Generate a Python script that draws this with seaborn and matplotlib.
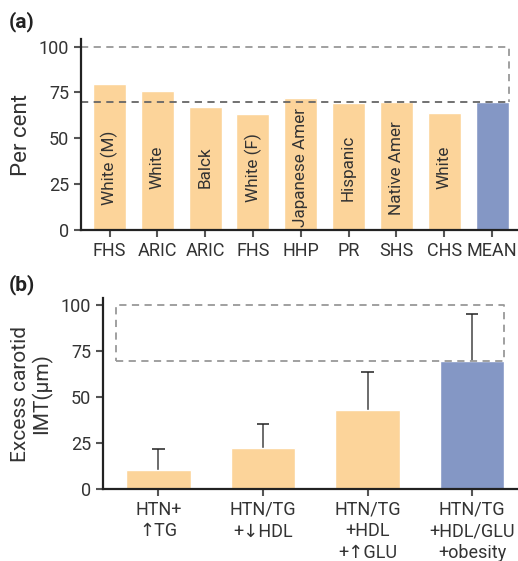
import numpy as np
import matplotlib
matplotlib.use('Agg')
import matplotlib.pyplot as plt
import seaborn as sns

# panel (a) data
studies = ['FHS', 'ARIC', 'ARIC', 'FHS', 'HHP', 'PR', 'SHS', 'CHS', 'MEAN']
groups = ['White (M)', 'White', 'Balck', 'White (F)', 'Japanese Amer',
          'Hispanic', 'Native Amer', 'White', '']
percent = [79.8, 75.6, 67.2, 63.4, 72.1, 69.4, 69.8, 63.9, 69.8]

# panel (b) data
combos = ['HTN+\n↑TG', 'HTN/TG\n+↓HDL', 'HTN/TG\n+HDL\n+↑GLU', 'HTN/TG\n+HDL/GLU\n+obesity']
imt = [10.5, 22.2, 43.0, 69.8]
imt_upper = [22.0, 35.3, 63.5, 95.0]

orange = '#FCD49A'
blue = '#8497C5'

sns.set_style('ticks')
plt.rcParams['font.family'] = ['Roboto', 'DejaVu Sans']
plt.rcParams['axes.linewidth'] = 1.6
plt.rcParams['axes.edgecolor'] = '#222222'

fig = plt.figure(figsize=(5.18, 5.61), dpi=100)
ax1 = fig.add_axes([0.156, 0.590, 0.842, 0.340])
ax2 = fig.add_axes([0.199, 0.128, 0.799, 0.341])

# ---- (a)
pos_a = list(range(len(studies)))
cols_a = [orange] * (len(studies) - 1) + [blue]
sns.barplot(x=pos_a, y=percent, hue=pos_a, palette=cols_a, legend=False,
            width=0.69, saturation=1, ax=ax1)
ax1.set_xlim(-0.6, len(studies) - 1 + 0.52)
ax1.set_ylim(0, 104)
ax1.set_yticks([0, 25, 50, 75, 100])
ax1.set_xticks(pos_a)
ax1.set_xticklabels(studies)
ax1.set_ylabel('Per cent', fontsize=16, color='#333333', labelpad=5)
for i, g in enumerate(groups):
    if g:
        ax1.text(i, 34.0, g, rotation=90, ha='center', va='center',
                 fontsize=12.3, color='#333333')

# dashed target box: from the mean value up to 100
top_a = 100
base_a = percent[-1]
right_a = len(studies) - 1 + 0.345
ax1.plot([-0.6, right_a, right_a], [top_a, top_a, base_a], ls=(0, (4, 3)),
         color='#999999', lw=1.3, clip_on=False)
ax1.plot([-0.6, right_a], [base_a, base_a], ls=(0, (4, 3)),
         color='#666666', lw=1.3, clip_on=False)

# ---- (b)
pos_b = list(range(len(combos)))
cols_b = [orange] * (len(combos) - 1) + [blue]
ax2.vlines(pos_b, imt, imt_upper, color='#444444', lw=1.1, zorder=1)
ax2.hlines(imt_upper, np.array(pos_b) - 0.06, np.array(pos_b) + 0.06,
           color='#222222', lw=1.1, zorder=1)
sns.barplot(x=pos_b, y=imt, hue=pos_b, palette=cols_b, legend=False,
            width=0.62, saturation=1, ax=ax2)
ax2.set_xlim(-0.53, len(combos) - 1 + 0.43)
ax2.set_ylim(0, 104)
ax2.set_yticks([0, 25, 50, 75, 100])
ax2.set_xticks(pos_b)
ax2.set_xticklabels(combos, linespacing=1.25)
ax2.set_ylabel('Excess carotid\nIMT(μm)', fontsize=15, color='#333333',
               labelpad=6, linespacing=1.1)
ax2.plot([-0.41, 3.31, 3.31, -0.41, -0.41], [imt[-1], imt[-1], 100, 100, imt[-1]],
         ls=(0, (4, 3)), color='#999999', lw=1.3, clip_on=False)

for ax in (ax1, ax2):
    sns.despine(ax=ax)
    ax.tick_params(axis='both', labelsize=13, colors='#555555', labelcolor='#333333',
                   length=5, width=1.5, direction='out')
    ax.set_xlabel('')

fig.text(0.016, 0.962, '(a)', fontsize=15, fontweight='bold', va='center', color='#222222')
fig.text(0.016, 0.492, '(b)', fontsize=15, fontweight='bold', va='center', color='#222222')

fig.savefig('out.png', dpi=100)
